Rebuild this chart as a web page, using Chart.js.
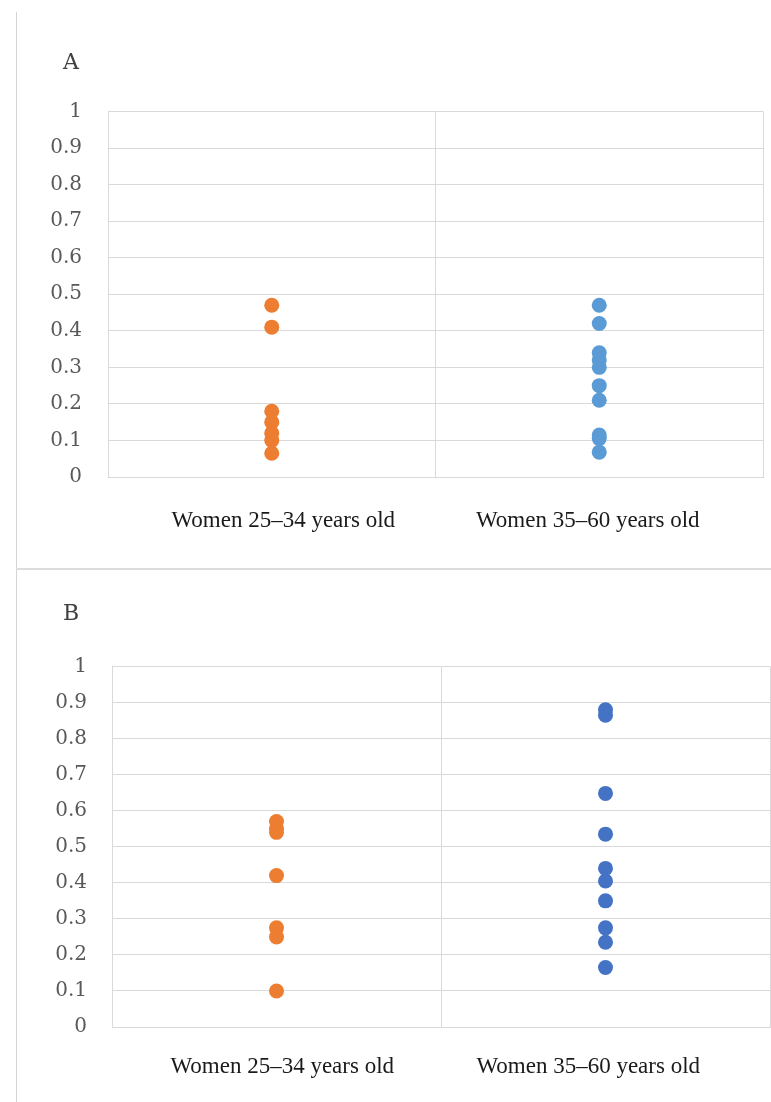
<!DOCTYPE html>
<html>
<head>
<meta charset="utf-8">
<script src="https://cdn.jsdelivr.net/npm/chart.js@4.4.1/dist/chart.umd.min.js"></script>
<style>
  body { margin: 0; background: #fff; }
  #page { position: relative; width: 771px; height: 1102px; overflow: hidden; }
  #frame { position: absolute; left: 16px; top: 12px; width: 755px; height: 1090px; border-left: 1.5px solid #d4d4d4; }
  #sep { position: absolute; left: 16px; top: 568px; width: 755px; border-top: 2px solid #dcdcdc; }
  canvas { position: absolute; left: 0; }
  #chartA { top: 0; }
  #chartB { top: 569px; }
  .panel-label { position: absolute; left: 63px; font-family: 'DejaVu Serif', serif; font-size: 22px; line-height: 26px; color: #404040; }
</style>
</head>
<body>
<div id="page">
  <div id="frame"></div>
  <div id="sep"></div>
  <canvas id="chartA" width="771" height="569"></canvas>
  <canvas id="chartB" width="771" height="533"></canvas>
  <div class="panel-label" style="top:49px">A</div>
  <div class="panel-label" style="top:600px">B</div>
</div>
<script>
"use strict"
// Kategorier och värden
const categories = ['Women 25–34 years old', 'Women 35–60 years old'];
const yTickLabels = ['0', '0.1', '0.2', '0.3', '0.4', '0.5', '0.6', '0.7', '0.8', '0.9', '1'];

// Panel A
const aYoung = [0.47, 0.41, 0.18, 0.15, 0.12, 0.10, 0.065];
const aOld = [0.47, 0.42, 0.34, 0.32, 0.30, 0.25, 0.21, 0.115, 0.105, 0.068];

// Panel B
const bYoung = [0.57, 0.55, 0.54, 0.42, 0.275, 0.25, 0.10];
const bOld = [0.88, 0.865, 0.648, 0.535, 0.44, 0.405, 0.35, 0.275, 0.235, 0.165];

const gridColor = '#d9d9d9';
const enSpace = '\u2002';

function toPoints(values, cat) {
    return values.map(v => ({ x: cat, y: v }));
}

// Ritar en panel (A eller B)
function panelChart(id, young, old, colorOld, lay) {
    new Chart(
        document.getElementById(id),
        {
          type: 'scatter',
          data: {
            labels: categories,
            datasets: [
              {
                label: categories[0],
                data: toPoints(young, categories[0]),
                backgroundColor: '#ED7D31',
                borderWidth: 0,
                pointRadius: 7.5
              },
              {
                label: categories[1],
                data: toPoints(old, categories[1]),
                backgroundColor: colorOld,
                borderWidth: 0,
                pointRadius: 7.5
              }
            ]
          },
          options: {
            responsive: false,
            animation: false,
            layout: {
              autoPadding: false,
              padding: { left: 16, right: lay.right, top: lay.top, bottom: 0 }
            },
            plugins: {
              legend: { display: false },
              tooltip: { enabled: false },
              title: { display: false }
            },
            scales: {
              x: {
                type: 'category',
                labels: categories,
                offset: true,
                grid: { offset: true, color: gridColor, drawTicks: false },
                border: { color: gridColor },
                ticks: {
                  color: '#1a1a1a',
                  padding: lay.xPad,
                  font: { family: 'Liberation Serif', size: 23 },
                  // Etiketterna sitter lite in mot mitten i originalet
                  callback: function(value, index) {
                    if (index === 0) return enSpace.repeat(lay.shift[0]) + categories[0];
                    return categories[1] + enSpace.repeat(lay.shift[1]);
                  }
                },
                afterFit: function(scale) { scale.height = lay.xHeight; }
              },
              y: {
                min: 0,
                max: 1,
                grid: { color: gridColor, drawTicks: false },
                border: { color: gridColor },
                ticks: {
                  stepSize: 0.1,
                  padding: lay.yPad,
                  color: '#595959',
                  font: { family: 'DejaVu Serif', size: 20 },
                  callback: function(value, index) {
                    return yTickLabels[index];
                  }
                },
                afterFit: function(scale) { scale.width = lay.yWidth; }
              }
            }
          }
        }
    );
}

panelChart('chartA', aYoung, aOld, '#5B9BD5',
    { right: 8, top: 111.5, xPad: 30, xHeight: 92, yPad: 26, yWidth: 92, shift: [2, 2] });
panelChart('chartB', bYoung, bOld, '#4472C4',
    { right: 1, top: 97.5, xPad: 26, xHeight: 75, yPad: 25, yWidth: 96, shift: [1, 3] });
</script>
</body>
</html>
